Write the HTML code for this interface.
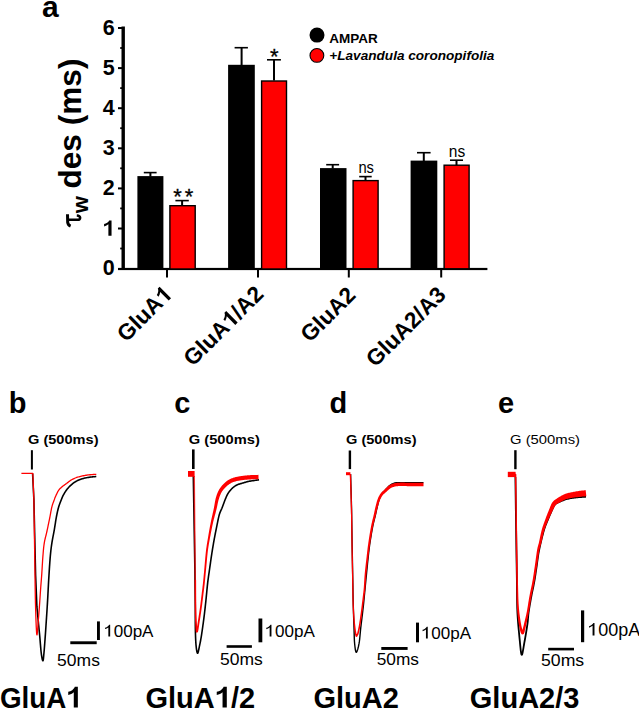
<!DOCTYPE html>
<html><head><meta charset="utf-8"><style>
html,body{margin:0;padding:0;background:#fff;}
svg{display:block;}
text{font-family:"Liberation Sans",sans-serif;}
.b{font-weight:bold;}
.one{fill-opacity:0;}
</style></head><body>
<svg width="639" height="710" viewBox="0 0 639 710">
<rect width="639" height="710" fill="#fff"/>
<text x="42" y="17" class="b" font-size="30">a</text>
<g fill="#000">
<rect x="121.5" y="26.5" width="3.4" height="243"/>
<rect x="118" y="267.9" width="369.4" height="2.2"/>
<rect x="118" y="27" width="4" height="2"/>
<rect x="118" y="67.1" width="4" height="2"/>
<rect x="118" y="107.2" width="4" height="2"/>
<rect x="118" y="147.3" width="4" height="2"/>
<rect x="118" y="187.4" width="4" height="2"/>
<rect x="118" y="227.5" width="4" height="2"/>
<rect x="120.2" y="47.1" width="2" height="1.8"/>
<rect x="120.2" y="87.2" width="2" height="1.8"/>
<rect x="120.2" y="127.3" width="2" height="1.8"/>
<rect x="120.2" y="167.4" width="2" height="1.8"/>
<rect x="120.2" y="207.5" width="2" height="1.8"/>
<rect x="120.2" y="247.6" width="2" height="1.8"/>
<rect x="166" y="269" width="2" height="8.5"/>
<rect x="257" y="269" width="2" height="8.5"/>
<rect x="347.8" y="269" width="2" height="8.5"/>
<rect x="440.2" y="269" width="2" height="8.5"/>
</g>
<g class="b" font-size="21.5" text-anchor="end">
<text x="114.6" y="34.6">6</text>
<text x="114.6" y="74.6">5</text>
<text x="114.6" y="114.7">4</text>
<text x="114.6" y="154.8">3</text>
<text x="114.6" y="194.9">2</text>
<text x="114.6" y="235.8"><tspan class="one">1</tspan></text>
<text x="114.6" y="275.1">0</text>
</g>
<g transform="translate(80.7,0) rotate(-90)">
</g><g fill="none" stroke="#000"><path d="M67.5 214.2 L67.7 222.6 Q68.1 225.2 70.6 226.2" stroke-width="3"/><path d="M68 219.8 L77.6 219.8 Q80.3 219.7 80.1 217.6 Q79.9 215.7 76.8 215.5" stroke-width="2.6"/></g><g transform="translate(80.7,0) rotate(-90)">
<text x="-213.3" y="6.8" class="b" font-size="22">w</text>
<text x="-188.5" y="0" class="b" font-size="31.6">des (ms)</text>
</g>
<g>
<rect x="137.4" y="176.1" width="26" height="92.5" fill="#000"/>
<rect x="228.1" y="64.8" width="26.7" height="204" fill="#000"/>
<rect x="320" y="168.1" width="26.5" height="100.7" fill="#000"/>
<rect x="410.6" y="160.6" width="26.7" height="108.2" fill="#000"/>
<rect x="169.9" y="205.7" width="25.3" height="63.3" fill="#f00" stroke="#000" stroke-width="1.4"/>
<rect x="261.6" y="81" width="24.9" height="188" fill="#f00" stroke="#000" stroke-width="1.4"/>
<rect x="353.1" y="180.6" width="25" height="88.2" fill="#f00" stroke="#000" stroke-width="1.4"/>
<rect x="444.1" y="165.2" width="25" height="103.6" fill="#f00" stroke="#000" stroke-width="1.4"/>
</g>
<g stroke="#000" fill="none">
<path d="M150.4 176.5 V172.6" stroke-width="2"/><path d="M143.8 172.6 H156.6" stroke-width="1.6"/>
<path d="M241.6 65 V47.7" stroke-width="2"/><path d="M234.6 47.7 H247.9" stroke-width="1.6"/>
<path d="M332.7 168.5 V164.7" stroke-width="2"/><path d="M326.2 164.7 H339.1" stroke-width="1.6"/>
<path d="M423.8 161 V152.7" stroke-width="2"/><path d="M417 152.7 H430.6" stroke-width="1.6"/>
<path d="M182.1 205.5 V200.6" stroke-width="2"/><path d="M175.4 200.6 H188.8" stroke-width="1.6"/>
<path d="M274 80.5 V59.8" stroke-width="2"/><path d="M267 59.8 H280.9" stroke-width="1.6"/>
<path d="M365.5 180.5 V176.6" stroke-width="2"/><path d="M359.2 176.6 H371.7" stroke-width="1.6"/>
<path d="M456.5 165 V160.2" stroke-width="2"/><path d="M450 160.2 H463" stroke-width="1.6"/>
</g>
<g font-size="22" text-anchor="middle" stroke="#000" stroke-width="0.3">
<text x="177.5" y="204">*</text>
<text x="189.1" y="204">*</text>
<text x="274.4" y="63.8">*</text>
</g>
<g font-size="16" text-anchor="start">
<text x="358.4" y="172.8" textLength="15.6" lengthAdjust="spacingAndGlyphs">ns</text>
<text x="448.8" y="157.3" textLength="16.4" lengthAdjust="spacingAndGlyphs">ns</text>
</g>
<circle cx="317" cy="35.1" r="7.5" fill="#000"/>
<circle cx="316.9" cy="55.4" r="6.9" fill="#f00" stroke="#000" stroke-width="1.1"/>
<text x="329.2" y="43.3" class="b" font-size="13.5">AMPAR</text>
<text x="329.3" y="59.7" class="b" font-size="13.6" font-style="italic">+Lavandula coronopifolia</text>
<g class="b" font-size="22.6" text-anchor="end">
<text transform="translate(173.3,295.9) rotate(-45)">GluA<tspan class="one">1</tspan></text>
<text transform="translate(264.8,295.4) rotate(-45)">GluA<tspan class="one">1</tspan>/A2</text>
<text transform="translate(356.9,296.3) rotate(-45)">GluA2</text>
<text transform="translate(447.2,296.1) rotate(-45)">GluA2/A3</text>
</g>
<g class="b" font-size="29">
<text x="8.7" y="413">b</text>
<text x="174.3" y="412.5">c</text>
<text x="329.4" y="413">d</text>
<text x="498.1" y="412.5">e</text>
</g>
<g font-size="13">
<text x="28" y="444.2" class="b" textLength="70.5" lengthAdjust="spacingAndGlyphs">G (500ms)</text>
<text x="188.8" y="444.2" class="b" textLength="71" lengthAdjust="spacingAndGlyphs">G (500ms)</text>
<text x="346" y="444.2" class="b" textLength="70.5" lengthAdjust="spacingAndGlyphs">G (500ms)</text>
<text x="510" y="444.2" textLength="70" lengthAdjust="spacingAndGlyphs">G (500ms)</text>
</g>
<g fill="#000">
<rect x="30.9" y="450.2" width="2" height="19.3"/>
<rect x="192" y="449.4" width="2.6" height="19.6"/>
<rect x="348.7" y="450.5" width="2.4" height="18.6"/>
<rect x="514.2" y="450.2" width="2.4" height="19"/>
</g>
<g fill="none" stroke-linejoin="round" stroke-linecap="butt">
<path d="M32.60 473.60 L33.90 500.00 L35.60 575.00 L36.90 606.70 L36.97 607.44 L37.06 608.37 L37.16 609.46 L37.27 610.69 L37.40 612.02 L37.53 613.44 L37.67 614.92 L37.82 616.42 L37.96 617.92 L38.10 619.40 L38.24 620.88 L38.39 622.42 L38.55 624.00 L38.71 625.63 L38.88 627.28 L39.04 628.96 L39.21 630.66 L39.37 632.37 L39.54 634.09 L39.70 635.80 L39.86 637.57 L40.02 639.44 L40.18 641.37 L40.34 643.33 L40.50 645.27 L40.66 647.18 L40.82 649.00 L40.98 650.70 L41.14 652.24 L41.30 653.60 L41.46 654.81 L41.63 655.95 L41.80 656.99 L41.97 657.93 L42.14 658.76 L42.30 659.47 L42.46 660.03 L42.62 660.45 L42.76 660.71 L42.90 660.80 L43.02 660.70 L43.14 660.41 L43.24 659.95 L43.33 659.34 L43.42 658.60 L43.51 657.75 L43.60 656.80 L43.70 655.78 L43.79 654.71 L43.90 653.60 L44.01 652.42 L44.13 651.13 L44.24 649.75 L44.36 648.28 L44.48 646.74 L44.60 645.14 L44.73 643.49 L44.85 641.81 L44.98 640.11 L45.10 638.40 L45.23 636.65 L45.36 634.84 L45.49 632.98 L45.62 631.08 L45.75 629.14 L45.88 627.19 L46.01 625.23 L46.14 623.27 L46.27 621.32 L46.40 619.40 L46.52 617.51 L46.65 615.64 L46.77 613.78 L46.89 611.92 L47.01 610.06 L47.12 608.18 L47.24 606.27 L47.36 604.33 L47.48 602.34 L47.60 600.30 L47.72 598.20 L47.84 596.04 L47.95 593.83 L48.07 591.58 L48.18 589.31 L48.30 587.03 L48.42 584.75 L48.54 582.47 L48.67 580.22 L48.80 578.00 L48.94 575.77 L49.08 573.49 L49.22 571.19 L49.37 568.88 L49.52 566.60 L49.68 564.36 L49.83 562.19 L49.99 560.11 L50.14 558.14 L50.30 556.30 L50.45 554.61 L50.60 553.06 L50.75 551.61 L50.90 550.26 L51.05 548.97 L51.20 547.73 L51.37 546.51 L51.53 545.30 L51.71 544.07 L51.90 542.80 L52.10 541.52 L52.32 540.27 L52.54 539.03 L52.77 537.81 L53.01 536.60 L53.25 535.39 L53.50 534.17 L53.74 532.93 L53.97 531.68 L54.20 530.40 L54.42 529.08 L54.64 527.72 L54.86 526.32 L55.08 524.92 L55.30 523.51 L55.52 522.11 L55.74 520.73 L55.96 519.40 L56.18 518.12 L56.40 516.90 L56.62 515.74 L56.85 514.61 L57.07 513.52 L57.30 512.47 L57.52 511.44 L57.75 510.45 L57.98 509.50 L58.22 508.57 L58.46 507.67 L58.70 506.80 L58.95 505.96 L59.21 505.16 L59.48 504.40 L59.75 503.66 L60.02 502.96 L60.29 502.28 L60.55 501.63 L60.81 501.00 L61.06 500.39 L61.30 499.80 L61.52 499.25 L61.71 498.75 L61.88 498.29 L62.05 497.86 L62.22 497.44 L62.39 497.03 L62.58 496.61 L62.79 496.18 L63.03 495.71 L63.30 495.20 L63.61 494.65 L63.93 494.07 L64.28 493.46 L64.65 492.84 L65.03 492.21 L65.43 491.57 L65.85 490.93 L66.29 490.31 L66.74 489.69 L67.20 489.10 L67.69 488.52 L68.20 487.93 L68.73 487.34 L69.28 486.75 L69.85 486.18 L70.42 485.61 L71.00 485.07 L71.57 484.55 L72.14 484.06 L72.70 483.60 L73.25 483.18 L73.78 482.78 L74.32 482.41 L74.85 482.07 L75.38 481.74 L75.92 481.44 L76.47 481.14 L77.03 480.85 L77.61 480.58 L78.20 480.30 L78.82 480.03 L79.45 479.77 L80.10 479.52 L80.77 479.29 L81.44 479.06 L82.11 478.85 L82.79 478.64 L83.47 478.45 L84.14 478.27 L84.80 478.10 L85.46 477.94 L86.13 477.80 L86.80 477.67 L87.48 477.55 L88.15 477.44 L88.81 477.34 L89.46 477.25 L90.10 477.16 L90.71 477.08 L91.30 477.00 L91.88 476.92 L92.48 476.85 L93.07 476.79 L93.65 476.73 L94.21 476.68 L94.73 476.64 L95.21 476.59 L95.64 476.56 L96.01 476.53 L96.30 476.50" stroke="#000" stroke-width="1.6"/>
<path d="M21.40 473.40 L32.80 473.40 L33.90 500.00 L35.00 575.00 L35.02 576.50 L35.05 578.44 L35.08 580.73 L35.11 583.29 L35.15 586.06 L35.19 588.96 L35.24 591.91 L35.29 594.83 L35.34 597.65 L35.40 600.30 L35.46 602.91 L35.54 605.63 L35.61 608.43 L35.70 611.24 L35.78 614.01 L35.87 616.71 L35.95 619.27 L36.04 621.66 L36.12 623.82 L36.20 625.70 L36.27 627.33 L36.35 628.79 L36.42 630.07 L36.49 631.18 L36.56 632.14 L36.62 632.94 L36.69 633.61 L36.76 634.13 L36.83 634.53 L36.90 634.80 L36.97 634.89 L37.04 634.76 L37.12 634.44 L37.19 633.98 L37.26 633.39 L37.33 632.73 L37.40 632.02 L37.47 631.31 L37.54 630.62 L37.60 630.00 L37.65 629.44 L37.70 628.92 L37.74 628.41 L37.78 627.89 L37.81 627.33 L37.85 626.71 L37.90 626.02 L37.95 625.21 L38.02 624.28 L38.10 623.20 L38.20 621.95 L38.31 620.56 L38.43 619.04 L38.56 617.42 L38.70 615.71 L38.84 613.95 L38.98 612.14 L39.13 610.32 L39.27 608.49 L39.40 606.70 L39.53 604.87 L39.66 602.96 L39.80 600.99 L39.93 598.98 L40.07 596.96 L40.20 594.97 L40.33 593.02 L40.46 591.14 L40.58 589.36 L40.70 587.70 L40.81 586.20 L40.92 584.85 L41.02 583.62 L41.11 582.45 L41.21 581.33 L41.30 580.21 L41.39 579.05 L41.49 577.82 L41.59 576.48 L41.70 575.00 L41.81 573.35 L41.92 571.56 L42.04 569.67 L42.16 567.70 L42.27 565.70 L42.40 563.69 L42.52 561.72 L42.64 559.80 L42.77 557.99 L42.90 556.30 L43.03 554.73 L43.15 553.23 L43.27 551.80 L43.39 550.42 L43.51 549.09 L43.64 547.79 L43.79 546.52 L43.94 545.28 L44.11 544.04 L44.30 542.80 L44.51 541.59 L44.74 540.43 L44.99 539.32 L45.24 538.23 L45.51 537.15 L45.79 536.07 L46.07 534.98 L46.35 533.87 L46.63 532.71 L46.90 531.50 L47.17 530.23 L47.46 528.90 L47.74 527.54 L48.03 526.15 L48.32 524.74 L48.61 523.34 L48.90 521.95 L49.18 520.59 L49.44 519.27 L49.70 518.00 L49.94 516.77 L50.18 515.54 L50.40 514.33 L50.62 513.14 L50.83 511.98 L51.04 510.85 L51.25 509.76 L51.46 508.72 L51.68 507.73 L51.90 506.80 L52.13 505.93 L52.37 505.10 L52.62 504.32 L52.87 503.59 L53.11 502.90 L53.35 502.25 L53.59 501.64 L53.81 501.06 L54.01 500.51 L54.20 500.00 L54.36 499.55 L54.48 499.18 L54.58 498.87 L54.67 498.61 L54.75 498.37 L54.84 498.13 L54.94 497.87 L55.06 497.58 L55.21 497.23 L55.40 496.80 L55.63 496.28 L55.90 495.69 L56.18 495.05 L56.49 494.37 L56.82 493.67 L57.15 492.97 L57.50 492.28 L57.84 491.63 L58.17 491.03 L58.50 490.50 L58.82 490.04 L59.13 489.62 L59.44 489.23 L59.76 488.88 L60.08 488.56 L60.40 488.24 L60.73 487.94 L61.07 487.64 L61.43 487.33 L61.80 487.00 L62.18 486.67 L62.58 486.35 L62.98 486.04 L63.39 485.74 L63.81 485.43 L64.25 485.12 L64.69 484.81 L65.15 484.49 L65.62 484.15 L66.10 483.80 L66.60 483.43 L67.11 483.03 L67.63 482.62 L68.16 482.20 L68.71 481.77 L69.26 481.35 L69.83 480.94 L70.41 480.54 L71.00 480.16 L71.60 479.80 L72.21 479.47 L72.81 479.15 L73.43 478.84 L74.06 478.55 L74.69 478.27 L75.35 478.00 L76.02 477.74 L76.72 477.48 L77.45 477.24 L78.20 477.00 L78.99 476.77 L79.81 476.54 L80.66 476.33 L81.54 476.12 L82.43 475.92 L83.34 475.74 L84.25 475.56 L85.17 475.40 L86.09 475.24 L87.00 475.10 L87.95 474.97 L88.98 474.86 L90.05 474.75 L91.13 474.66 L92.20 474.58 L93.23 474.51 L94.18 474.45 L95.03 474.39 L95.74 474.34 L96.30 474.30" stroke="#f00" stroke-width="1.3"/>
<path d="M193.30 476.00 L194.90 570.00 L195.30 608.00 L195.30 609.39 L195.30 611.22 L195.30 613.41 L195.30 615.85 L195.31 618.46 L195.31 621.14 L195.32 623.81 L195.34 626.37 L195.37 628.73 L195.40 630.80 L195.44 632.66 L195.49 634.44 L195.54 636.14 L195.60 637.76 L195.66 639.31 L195.73 640.78 L195.81 642.18 L195.90 643.50 L195.99 644.74 L196.10 645.90 L196.22 647.02 L196.34 648.11 L196.48 649.15 L196.62 650.12 L196.77 651.01 L196.93 651.78 L197.10 652.41 L197.26 652.89 L197.43 653.19 L197.60 653.30 L197.77 653.17 L197.95 652.81 L198.14 652.25 L198.33 651.54 L198.52 650.69 L198.72 649.76 L198.92 648.78 L199.11 647.79 L199.31 646.82 L199.50 645.90 L199.69 645.03 L199.87 644.17 L200.05 643.31 L200.23 642.42 L200.41 641.49 L200.60 640.52 L200.79 639.47 L200.98 638.35 L201.19 637.13 L201.40 635.80 L201.63 634.33 L201.87 632.73 L202.12 631.01 L202.39 629.21 L202.65 627.35 L202.91 625.46 L203.18 623.56 L203.43 621.68 L203.67 619.86 L203.90 618.10 L204.11 616.41 L204.32 614.76 L204.51 613.14 L204.70 611.53 L204.89 609.93 L205.07 608.32 L205.25 606.69 L205.43 605.03 L205.61 603.34 L205.80 601.60 L205.99 599.78 L206.18 597.89 L206.37 595.94 L206.56 593.96 L206.75 591.98 L206.94 590.00 L207.13 588.06 L207.32 586.19 L207.51 584.39 L207.70 582.70 L207.89 581.13 L208.07 579.66 L208.26 578.28 L208.44 576.96 L208.62 575.67 L208.81 574.40 L209.00 573.12 L209.19 571.80 L209.39 570.44 L209.60 569.00 L209.81 567.48 L210.03 565.91 L210.26 564.29 L210.49 562.65 L210.72 560.99 L210.96 559.34 L211.20 557.70 L211.43 556.08 L211.67 554.51 L211.90 553.00 L212.13 551.53 L212.36 550.09 L212.59 548.67 L212.82 547.27 L213.06 545.90 L213.29 544.55 L213.52 543.23 L213.75 541.93 L213.97 540.65 L214.20 539.40 L214.42 538.19 L214.64 537.04 L214.85 535.93 L215.06 534.84 L215.27 533.78 L215.48 532.71 L215.70 531.63 L215.92 530.53 L216.16 529.39 L216.40 528.20 L216.65 526.94 L216.92 525.60 L217.19 524.21 L217.47 522.79 L217.75 521.37 L218.04 519.97 L218.33 518.60 L218.62 517.31 L218.91 516.10 L219.20 515.00 L219.49 514.02 L219.79 513.14 L220.09 512.33 L220.40 511.59 L220.70 510.89 L221.00 510.23 L221.31 509.57 L221.61 508.91 L221.91 508.22 L222.20 507.50 L222.49 506.75 L222.77 505.98 L223.05 505.22 L223.32 504.45 L223.60 503.69 L223.88 502.93 L224.15 502.18 L224.43 501.44 L224.71 500.71 L225.00 500.00 L225.29 499.30 L225.57 498.62 L225.85 497.94 L226.13 497.27 L226.41 496.61 L226.70 495.96 L227.01 495.32 L227.32 494.70 L227.65 494.09 L228.00 493.50 L228.37 492.92 L228.76 492.35 L229.16 491.78 L229.57 491.24 L229.99 490.70 L230.43 490.18 L230.87 489.68 L231.31 489.20 L231.75 488.74 L232.20 488.30 L232.65 487.89 L233.09 487.50 L233.54 487.13 L234.00 486.78 L234.46 486.44 L234.92 486.13 L235.40 485.83 L235.89 485.54 L236.39 485.26 L236.90 485.00 L237.43 484.75 L237.96 484.53 L238.51 484.32 L239.07 484.13 L239.64 483.96 L240.21 483.79 L240.80 483.62 L241.39 483.45 L241.99 483.28 L242.60 483.10 L243.20 482.91 L243.79 482.73 L244.38 482.54 L244.98 482.36 L245.59 482.18 L246.22 481.99 L246.87 481.81 L247.57 481.64 L248.31 481.47 L249.10 481.30 L250.00 481.13 L251.02 480.96 L252.13 480.78 L253.29 480.61 L254.46 480.44 L255.59 480.28 L256.65 480.13 L257.60 480.00 L258.40 479.89 L259.00 479.80" stroke="#000" stroke-width="1.6"/>
<path d="M194.2 476 L195.1 570 L195.3 580" stroke="#f00" stroke-width="1.5" stroke-opacity="0.75"/>
<path d="M194.50 580.00 L194.51 581.39 L194.52 583.18 L194.53 585.31 L194.54 587.69 L194.55 590.27 L194.56 592.98 L194.58 595.74 L194.60 598.49 L194.62 601.17 L194.64 603.69 L194.67 605.99 L194.70 608.01 L194.73 609.82 L194.77 611.53 L194.80 613.15 L194.84 614.68 L194.89 616.14 L194.93 617.52 L194.98 618.83 L195.03 620.07 L195.08 621.25 L195.14 622.37 L195.19 623.43 L195.25 624.45 L195.31 625.44 L195.36 626.42 L195.42 627.37 L195.48 628.28 L195.54 629.13 L195.60 629.91 L195.67 630.60 L195.74 631.19 L195.84 631.68 L195.99 632.14 L196.67 632.73 L197.74 632.31 L197.98 631.81 L198.13 631.23 L198.29 630.51 L198.45 629.65 L198.61 628.67 L198.78 627.59 L198.95 626.44 L199.12 625.25 L199.29 624.06 L199.46 622.89 L199.63 621.78 L199.79 620.74 L199.95 619.74 L200.11 618.72 L200.27 617.69 L200.43 616.65 L200.60 615.59 L200.76 614.53 L200.92 613.46 L201.08 612.39 L201.24 611.32 L201.39 610.25 L201.54 609.18 L201.69 608.12 L201.84 607.07 L201.98 606.01 L202.12 604.95 L202.25 603.88 L202.39 602.82 L202.52 601.76 L202.65 600.70 L202.78 599.64 L202.91 598.58 L203.04 597.52 L203.16 596.46 L203.29 595.41 L203.42 594.36 L203.55 593.32 L203.68 592.28 L203.81 591.24 L203.94 590.21 L204.06 589.17 L204.19 588.13 L204.31 587.08 L204.44 586.03 L204.56 584.96 L204.68 583.89 L204.79 582.80 L204.91 581.70 L205.02 580.62 L205.13 579.54 L205.23 578.46 L205.33 577.37 L205.43 576.27 L205.54 575.15 L205.64 574.01 L205.75 572.84 L205.86 571.63 L205.97 570.38 L206.10 569.08 L206.23 567.72 L206.36 566.28 L206.49 564.78 L206.63 563.24 L206.77 561.67 L206.92 560.09 L207.06 558.50 L207.21 556.94 L207.36 555.40 L207.52 553.91 L207.68 552.47 L207.84 551.11 L208.01 549.83 L208.18 548.60 L208.35 547.42 L208.53 546.27 L208.71 545.15 L208.89 544.05 L209.08 542.97 L209.27 541.88 L209.47 540.79 L209.67 539.68 L209.87 538.54 L210.08 537.37 L210.31 536.18 L210.54 534.96 L210.77 533.73 L211.01 532.49 L211.25 531.25 L211.50 530.00 L211.75 528.76 L212.00 527.52 L212.26 526.29 L212.51 525.09 L212.77 523.90 L213.02 522.74 L213.29 521.61 L213.57 520.48 L213.85 519.37 L214.14 518.27 L214.42 517.18 L214.71 516.09 L215.00 515.02 L215.29 513.96 L215.57 512.91 L215.84 511.87 L216.11 510.83 L216.37 509.81 L216.61 508.78 L216.84 507.76 L217.06 506.75 L217.27 505.74 L217.47 504.76 L217.67 503.79 L217.87 502.85 L218.08 501.93 L218.28 501.05 L218.49 500.21 L218.71 499.41 L218.94 498.64 L219.17 497.91 L219.41 497.21 L219.65 496.54 L219.89 495.91 L220.13 495.30 L220.38 494.71 L220.64 494.15 L220.90 493.61 L221.17 493.08 L221.44 492.57 L221.72 492.07 L222.01 491.58 L222.31 491.11 L222.61 490.67 L222.92 490.24 L223.24 489.83 L223.56 489.43 L223.90 489.04 L224.24 488.66 L224.59 488.29 L224.95 487.92 L225.31 487.56 L225.68 487.20 L226.05 486.84 L226.41 486.49 L226.77 486.16 L227.12 485.83 L227.48 485.52 L227.84 485.22 L228.20 484.93 L228.56 484.65 L228.92 484.38 L229.29 484.12 L229.66 483.88 L230.04 483.64 L230.42 483.42 L230.81 483.20 L231.20 483.00 L231.58 482.80 L231.98 482.62 L232.38 482.44 L232.78 482.28 L233.20 482.11 L233.63 481.96 L234.08 481.81 L234.55 481.66 L235.04 481.52 L235.55 481.38 L236.07 481.24 L236.62 481.11 L237.19 480.99 L237.79 480.87 L238.41 480.75 L239.04 480.64 L239.68 480.54 L240.32 480.44 L240.97 480.34 L241.62 480.25 L242.26 480.16 L242.89 480.08 L243.50 480.00 L244.10 479.93 L244.70 479.87 L245.29 479.81 L245.89 479.75 L246.49 479.70 L247.09 479.65 L247.70 479.60 L248.32 479.56 L248.95 479.52 L249.58 479.48 L250.23 479.45 L250.91 479.41 L251.64 479.37 L252.42 479.34 L253.22 479.31 L254.03 479.28 L254.83 479.26 L255.61 479.23 L256.35 479.21 L257.03 479.19 L257.64 479.18 L258.16 479.16 L258.57 479.15 L258.43 474.85 L258.03 474.86 L257.52 474.88 L256.91 474.90 L256.23 474.91 L255.49 474.93 L254.70 474.96 L253.89 474.98 L253.07 475.01 L252.25 475.04 L251.45 475.08 L250.68 475.11 L249.97 475.15 L249.30 475.20 L248.65 475.25 L248.01 475.30 L247.37 475.35 L246.74 475.41 L246.11 475.46 L245.48 475.53 L244.85 475.59 L244.22 475.67 L243.59 475.75 L242.95 475.83 L242.31 475.92 L241.67 476.01 L241.01 476.11 L240.35 476.22 L239.68 476.32 L239.00 476.44 L238.32 476.56 L237.65 476.68 L236.98 476.81 L236.33 476.95 L235.68 477.10 L235.06 477.26 L234.45 477.42 L233.88 477.59 L233.33 477.77 L232.79 477.94 L232.27 478.13 L231.76 478.32 L231.25 478.52 L230.76 478.74 L230.28 478.96 L229.80 479.20 L229.32 479.44 L228.85 479.70 L228.38 479.98 L227.91 480.27 L227.46 480.58 L227.01 480.90 L226.57 481.23 L226.15 481.56 L225.73 481.91 L225.32 482.27 L224.91 482.63 L224.51 483.00 L224.12 483.38 L223.73 483.77 L223.35 484.16 L222.98 484.56 L222.61 484.96 L222.23 485.37 L221.85 485.80 L221.48 486.24 L221.10 486.70 L220.73 487.17 L220.36 487.66 L220.01 488.17 L219.65 488.70 L219.31 489.25 L218.99 489.82 L218.68 490.40 L218.38 490.97 L218.10 491.56 L217.82 492.17 L217.55 492.79 L217.29 493.42 L217.04 494.08 L216.79 494.76 L216.55 495.47 L216.32 496.20 L216.09 496.96 L215.86 497.76 L215.65 498.60 L215.44 499.48 L215.25 500.38 L215.07 501.31 L214.90 502.26 L214.73 503.22 L214.56 504.20 L214.39 505.19 L214.21 506.19 L214.03 507.19 L213.84 508.19 L213.63 509.19 L213.42 510.20 L213.20 511.23 L212.97 512.27 L212.73 513.33 L212.49 514.40 L212.24 515.48 L211.99 516.58 L211.74 517.69 L211.49 518.81 L211.25 519.95 L211.01 521.10 L210.78 522.26 L210.54 523.44 L210.31 524.64 L210.07 525.86 L209.84 527.10 L209.61 528.35 L209.39 529.60 L209.16 530.86 L208.95 532.11 L208.73 533.36 L208.52 534.60 L208.31 535.82 L208.12 537.03 L207.91 538.19 L207.72 539.33 L207.52 540.44 L207.33 541.54 L207.15 542.64 L206.97 543.73 L206.79 544.84 L206.62 545.98 L206.45 547.14 L206.28 548.34 L206.12 549.58 L205.96 550.89 L205.80 552.26 L205.65 553.71 L205.50 555.21 L205.35 556.76 L205.21 558.34 L205.07 559.92 L204.94 561.51 L204.81 563.08 L204.68 564.62 L204.55 566.12 L204.43 567.56 L204.30 568.92 L204.18 570.21 L204.07 571.46 L203.96 572.67 L203.85 573.84 L203.74 574.99 L203.64 576.10 L203.54 577.20 L203.44 578.29 L203.33 579.37 L203.23 580.44 L203.12 581.52 L203.01 582.60 L202.89 583.69 L202.77 584.76 L202.65 585.82 L202.52 586.87 L202.40 587.92 L202.28 588.95 L202.15 589.99 L202.02 591.02 L201.89 592.06 L201.76 593.10 L201.64 594.14 L201.51 595.19 L201.38 596.25 L201.25 597.30 L201.12 598.36 L200.99 599.42 L200.86 600.48 L200.73 601.54 L200.60 602.60 L200.47 603.66 L200.33 604.71 L200.19 605.77 L200.05 606.82 L199.91 607.88 L199.76 608.93 L199.61 609.99 L199.46 611.06 L199.30 612.13 L199.14 613.19 L198.98 614.26 L198.82 615.32 L198.66 616.37 L198.49 617.41 L198.33 618.44 L198.17 619.46 L198.01 620.46 L197.85 621.51 L197.68 622.63 L197.51 623.81 L197.34 625.00 L197.17 626.18 L197.00 627.31 L196.83 628.38 L196.67 629.34 L196.52 630.17 L196.38 630.82 L196.27 631.24 L196.26 631.29 L197.11 630.99 L197.59 631.36 L197.56 631.26 L197.49 630.90 L197.41 630.39 L197.34 629.74 L197.27 628.99 L197.21 628.16 L197.14 627.26 L197.08 626.32 L197.01 625.34 L196.95 624.35 L196.88 623.34 L196.82 622.28 L196.76 621.16 L196.70 619.99 L196.64 618.76 L196.58 617.46 L196.53 616.08 L196.48 614.63 L196.43 613.10 L196.38 611.49 L196.34 609.78 L196.30 607.99 L196.27 605.97 L196.24 603.67 L196.22 601.15 L196.20 598.48 L196.18 595.73 L196.16 592.97 L196.15 590.27 L196.14 587.69 L196.13 585.30 L196.12 583.18 L196.11 581.39 L196.10 580.00Z" fill="#f00" stroke="none"/>
<rect x="188" y="471" width="6.6" height="5.8" fill="#f00"/>
<path d="M350.60 474.00 L351.60 510.00 L352.10 543.80 L352.80 580.00 L352.82 581.33 L352.85 583.04 L352.88 585.05 L352.91 587.31 L352.95 589.75 L352.99 592.32 L353.04 594.95 L353.09 597.58 L353.14 600.15 L353.20 602.60 L353.26 605.03 L353.34 607.56 L353.42 610.16 L353.50 612.79 L353.59 615.43 L353.68 618.02 L353.76 620.55 L353.85 622.98 L353.93 625.27 L354.00 627.40 L354.06 629.37 L354.12 631.24 L354.16 633.01 L354.20 634.69 L354.24 636.28 L354.29 637.79 L354.35 639.24 L354.41 640.61 L354.50 641.93 L354.60 643.20 L354.72 644.46 L354.85 645.74 L354.99 647.00 L355.15 648.20 L355.31 649.31 L355.49 650.29 L355.67 651.12 L355.87 651.75 L356.08 652.16 L356.30 652.30 L356.54 652.16 L356.81 651.75 L357.09 651.12 L357.39 650.29 L357.70 649.31 L358.01 648.20 L358.31 647.00 L358.59 645.74 L358.86 644.46 L359.10 643.20 L359.31 641.91 L359.50 640.52 L359.67 639.06 L359.83 637.53 L359.98 635.93 L360.13 634.29 L360.28 632.60 L360.44 630.88 L360.61 629.15 L360.80 627.40 L361.01 625.61 L361.23 623.74 L361.46 621.82 L361.71 619.85 L361.95 617.87 L362.19 615.88 L362.44 613.90 L362.67 611.95 L362.89 610.04 L363.10 608.20 L363.30 606.40 L363.48 604.62 L363.67 602.85 L363.84 601.10 L364.01 599.38 L364.18 597.69 L364.34 596.03 L364.50 594.41 L364.65 592.83 L364.80 591.30 L364.94 589.85 L365.08 588.48 L365.20 587.19 L365.32 585.95 L365.44 584.72 L365.56 583.49 L365.69 582.22 L365.81 580.90 L365.95 579.50 L366.10 578.00 L366.26 576.38 L366.43 574.66 L366.60 572.87 L366.78 571.02 L366.97 569.14 L367.16 567.25 L367.34 565.36 L367.53 563.52 L367.72 561.72 L367.90 560.00 L368.08 558.36 L368.24 556.76 L368.41 555.21 L368.57 553.69 L368.74 552.19 L368.91 550.69 L369.09 549.18 L369.28 547.66 L369.48 546.10 L369.70 544.50 L369.94 542.84 L370.20 541.12 L370.47 539.35 L370.75 537.57 L371.04 535.78 L371.33 534.01 L371.63 532.28 L371.92 530.60 L372.22 529.00 L372.50 527.50 L372.78 526.08 L373.08 524.71 L373.37 523.39 L373.67 522.12 L373.97 520.91 L374.26 519.74 L374.54 518.61 L374.81 517.53 L375.06 516.50 L375.30 515.50 L375.51 514.57 L375.71 513.72 L375.88 512.94 L376.04 512.20 L376.20 511.50 L376.35 510.82 L376.50 510.14 L376.66 509.46 L376.82 508.75 L377.00 508.00 L377.19 507.21 L377.37 506.40 L377.56 505.57 L377.75 504.73 L377.94 503.89 L378.14 503.07 L378.35 502.25 L378.56 501.47 L378.77 500.71 L379.00 500.00 L379.23 499.32 L379.47 498.67 L379.70 498.04 L379.95 497.44 L380.20 496.85 L380.46 496.28 L380.73 495.74 L381.01 495.21 L381.30 494.70 L381.60 494.20 L381.92 493.73 L382.25 493.29 L382.59 492.88 L382.94 492.49 L383.31 492.11 L383.68 491.74 L384.05 491.37 L384.43 491.00 L384.82 490.61 L385.20 490.20 L385.59 489.77 L385.99 489.31 L386.41 488.84 L386.82 488.36 L387.24 487.88 L387.66 487.41 L388.08 486.96 L388.50 486.54 L388.90 486.15 L389.30 485.80 L389.68 485.49 L390.04 485.22 L390.39 484.97 L390.73 484.74 L391.07 484.54 L391.42 484.35 L391.79 484.18 L392.16 484.01 L392.57 483.86 L393.00 483.70 L393.38 483.55 L393.64 483.42 L393.85 483.29 L394.05 483.18 L394.31 483.07 L394.67 482.98 L395.20 482.90 L395.94 482.82 L396.96 482.76 L398.30 482.70 L400.13 482.65 L402.47 482.62 L405.19 482.60 L408.16 482.59 L411.23 482.59 L414.28 482.59 L417.17 482.59 L419.75 482.60 L421.91 482.60 L423.50 482.60" stroke="#000" stroke-width="1.4"/>
<path d="M346 473.7 L350.4 473.7" stroke="#f00" stroke-width="3"/>
<path d="M349.70 474.02 L349.76 475.77 L349.84 477.96 L349.92 480.54 L350.02 483.44 L350.13 486.58 L350.24 489.91 L350.36 493.35 L350.47 496.85 L350.58 500.33 L350.68 503.73 L350.77 506.98 L350.85 510.01 L350.91 512.90 L350.97 515.74 L351.01 518.56 L351.05 521.35 L351.09 524.13 L351.13 526.90 L351.16 529.67 L351.19 532.44 L351.23 535.24 L351.26 538.06 L351.30 540.92 L351.35 543.81 L351.40 546.79 L351.46 549.86 L351.52 553.01 L351.58 556.21 L351.64 559.41 L351.71 562.61 L351.77 565.77 L351.83 568.86 L351.89 571.86 L351.95 574.74 L352.00 577.46 L352.05 580.01 L352.09 582.39 L352.13 584.63 L352.16 586.75 L352.19 588.76 L352.21 590.68 L352.24 592.52 L352.26 594.29 L352.29 596.00 L352.32 597.68 L352.36 599.34 L352.40 600.98 L352.45 602.62 L352.50 604.25 L352.56 605.84 L352.62 607.39 L352.69 608.89 L352.75 610.36 L352.83 611.79 L352.90 613.18 L352.98 614.53 L353.06 615.85 L353.14 617.12 L353.22 618.36 L353.30 619.55 L353.39 620.71 L353.48 621.84 L353.57 622.93 L353.67 623.98 L353.77 624.99 L353.87 625.96 L353.97 626.89 L354.07 627.78 L354.17 628.63 L354.27 629.43 L354.36 630.19 L354.46 630.90 L354.55 631.58 L354.64 632.21 L354.73 632.81 L354.82 633.36 L354.91 633.88 L355.00 634.36 L355.09 634.79 L355.18 635.19 L355.27 635.54 L355.37 635.86 L355.48 636.14 L355.63 636.43 L355.92 636.76 L356.55 636.93 L357.06 636.74 L357.31 636.49 L357.47 636.25 L357.60 636.02 L357.71 635.78 L357.81 635.55 L357.90 635.33 L357.98 635.14 L358.05 634.99 L358.09 634.90 L358.12 634.86 L358.11 634.87 L358.08 634.90 L358.10 634.89 L358.20 634.80 L358.32 634.65 L358.42 634.48 L358.49 634.32 L358.55 634.14 L358.61 633.92 L358.69 633.64 L358.78 633.29 L358.88 632.88 L358.99 632.42 L359.12 631.90 L359.25 631.34 L359.39 630.74 L359.54 630.09 L359.70 629.39 L359.85 628.66 L360.01 627.89 L360.17 627.07 L360.33 626.22 L360.49 625.34 L360.65 624.40 L360.81 623.40 L360.97 622.35 L361.14 621.25 L361.31 620.11 L361.48 618.94 L361.65 617.75 L361.82 616.54 L361.99 615.32 L362.16 614.11 L362.33 612.90 L362.49 611.71 L362.66 610.50 L362.83 609.25 L363.01 607.97 L363.18 606.67 L363.36 605.36 L363.53 604.06 L363.70 602.77 L363.86 601.52 L364.02 600.30 L364.17 599.13 L364.31 598.03 L364.44 597.00 L364.56 596.08 L364.66 595.25 L364.76 594.49 L364.84 593.80 L364.92 593.14 L365.00 592.51 L365.07 591.87 L365.15 591.22 L365.22 590.53 L365.29 589.79 L365.37 588.98 L365.45 588.07 L365.53 587.09 L365.61 586.05 L365.69 584.98 L365.76 583.87 L365.84 582.72 L365.92 581.54 L366.00 580.34 L366.08 579.12 L366.17 577.87 L366.27 576.62 L366.38 575.35 L366.50 574.08 L366.63 572.78 L366.77 571.43 L366.92 570.04 L367.09 568.62 L367.25 567.18 L367.43 565.73 L367.60 564.28 L367.77 562.84 L367.95 561.43 L368.12 560.04 L368.28 558.70 L368.44 557.41 L368.59 556.19 L368.73 555.02 L368.87 553.89 L369.00 552.80 L369.13 551.74 L369.26 550.68 L369.40 549.63 L369.53 548.56 L369.68 547.47 L369.84 546.35 L370.01 545.17 L370.19 543.95 L370.39 542.64 L370.60 541.27 L370.82 539.85 L371.06 538.39 L371.30 536.91 L371.54 535.42 L371.79 533.93 L372.04 532.46 L372.30 531.03 L372.55 529.65 L372.79 528.34 L373.03 527.10 L373.27 525.93 L373.51 524.80 L373.76 523.70 L374.02 522.63 L374.27 521.60 L374.52 520.60 L374.77 519.63 L375.01 518.69 L375.24 517.79 L375.46 516.91 L375.67 516.06 L375.87 515.25 L376.05 514.49 L376.21 513.79 L376.36 513.14 L376.49 512.53 L376.62 511.97 L376.74 511.42 L376.85 510.90 L376.97 510.38 L377.09 509.86 L377.22 509.33 L377.36 508.77 L377.51 508.18 L377.68 507.56 L377.86 506.91 L378.03 506.26 L378.21 505.59 L378.40 504.93 L378.58 504.27 L378.77 503.61 L378.97 502.97 L379.16 502.35 L379.36 501.75 L379.57 501.18 L379.77 500.64 L379.98 500.12 L380.19 499.62 L380.40 499.14 L380.62 498.67 L380.84 498.22 L381.06 497.79 L381.29 497.38 L381.52 496.97 L381.75 496.58 L382.00 496.21 L382.24 495.84 L382.50 495.49 L382.75 495.16 L383.01 494.85 L383.28 494.56 L383.56 494.28 L383.85 494.00 L384.15 493.72 L384.47 493.45 L384.79 493.17 L385.13 492.88 L385.47 492.59 L385.83 492.28 L386.19 491.96 L386.55 491.63 L386.92 491.30 L387.29 490.95 L387.68 490.61 L388.06 490.26 L388.44 489.92 L388.82 489.59 L389.19 489.28 L389.55 488.98 L389.89 488.71 L390.21 488.47 L390.51 488.26 L390.79 488.07 L391.05 487.90 L391.28 487.76 L391.49 487.65 L391.69 487.55 L391.88 487.46 L392.07 487.38 L392.27 487.31 L392.50 487.23 L392.75 487.16 L393.04 487.07 L393.38 486.98 L393.73 486.88 L394.08 486.78 L394.42 486.69 L394.76 486.60 L395.10 486.52 L395.46 486.44 L395.85 486.37 L396.27 486.30 L396.72 486.24 L397.23 486.18 L397.79 486.14 L398.40 486.10 L399.08 486.07 L399.81 486.05 L400.60 486.04 L401.43 486.04 L402.31 486.05 L403.23 486.06 L404.18 486.08 L405.17 486.10 L406.17 486.11 L407.20 486.13 L408.24 486.14 L409.30 486.15 L410.42 486.15 L411.65 486.15 L412.96 486.15 L414.32 486.15 L415.71 486.15 L417.09 486.15 L418.43 486.15 L419.70 486.15 L420.87 486.15 L421.92 486.15 L422.80 486.15 L423.50 486.15 L423.50 482.65 L422.80 482.65 L421.92 482.65 L420.87 482.65 L419.70 482.65 L418.43 482.65 L417.09 482.65 L415.71 482.65 L414.32 482.65 L412.96 482.65 L411.65 482.65 L410.42 482.65 L409.30 482.65 L408.26 482.65 L407.23 482.65 L406.22 482.64 L405.21 482.63 L404.23 482.62 L403.27 482.61 L402.34 482.61 L401.43 482.61 L400.56 482.62 L399.73 482.63 L398.94 482.66 L398.20 482.70 L397.51 482.76 L396.88 482.82 L396.29 482.89 L395.75 482.97 L395.24 483.06 L394.77 483.16 L394.33 483.26 L393.92 483.37 L393.52 483.48 L393.15 483.60 L392.79 483.71 L392.42 483.82 L392.07 483.94 L391.73 484.05 L391.41 484.17 L391.10 484.30 L390.79 484.43 L390.50 484.58 L390.20 484.73 L389.91 484.90 L389.62 485.09 L389.33 485.29 L389.02 485.50 L388.69 485.74 L388.33 486.02 L387.96 486.33 L387.58 486.65 L387.20 486.99 L386.81 487.34 L386.42 487.70 L386.03 488.07 L385.65 488.44 L385.27 488.80 L384.90 489.16 L384.55 489.51 L384.21 489.84 L383.89 490.15 L383.57 490.45 L383.24 490.75 L382.91 491.05 L382.58 491.36 L382.25 491.68 L381.91 492.00 L381.58 492.34 L381.25 492.71 L380.93 493.09 L380.61 493.49 L380.30 493.91 L380.02 494.34 L379.74 494.78 L379.48 495.22 L379.22 495.68 L378.98 496.14 L378.74 496.62 L378.51 497.11 L378.28 497.61 L378.06 498.12 L377.85 498.65 L377.64 499.20 L377.43 499.76 L377.22 500.36 L377.02 500.98 L376.82 501.62 L376.63 502.28 L376.45 502.95 L376.27 503.63 L376.09 504.32 L375.92 505.00 L375.76 505.67 L375.59 506.34 L375.44 506.99 L375.29 507.62 L375.14 508.22 L375.00 508.80 L374.88 509.35 L374.76 509.89 L374.65 510.42 L374.54 510.95 L374.43 511.50 L374.31 512.07 L374.18 512.67 L374.05 513.31 L373.90 514.00 L373.73 514.75 L373.54 515.55 L373.34 516.39 L373.13 517.26 L372.91 518.16 L372.67 519.10 L372.43 520.08 L372.19 521.09 L371.94 522.14 L371.69 523.23 L371.45 524.35 L371.20 525.50 L370.97 526.70 L370.74 527.95 L370.50 529.28 L370.25 530.67 L370.01 532.11 L369.76 533.59 L369.52 535.08 L369.28 536.58 L369.05 538.07 L368.82 539.54 L368.61 540.97 L368.40 542.35 L368.21 543.65 L368.03 544.89 L367.87 546.07 L367.72 547.21 L367.58 548.31 L367.45 549.38 L367.33 550.44 L367.20 551.51 L367.08 552.58 L366.96 553.67 L366.83 554.79 L366.70 555.96 L366.56 557.19 L366.41 558.48 L366.25 559.82 L366.09 561.20 L365.92 562.62 L365.75 564.06 L365.59 565.51 L365.42 566.97 L365.26 568.41 L365.11 569.84 L364.96 571.24 L364.83 572.60 L364.70 573.92 L364.59 575.20 L364.49 576.48 L364.40 577.75 L364.32 579.00 L364.24 580.23 L364.17 581.43 L364.10 582.61 L364.04 583.76 L363.97 584.87 L363.90 585.93 L363.83 586.95 L363.75 587.93 L363.67 588.82 L363.60 589.63 L363.53 590.36 L363.45 591.04 L363.38 591.68 L363.31 592.31 L363.24 592.94 L363.16 593.59 L363.07 594.28 L362.98 595.03 L362.87 595.87 L362.76 596.80 L362.63 597.82 L362.50 598.92 L362.36 600.09 L362.21 601.31 L362.05 602.56 L361.89 603.85 L361.73 605.15 L361.56 606.46 L361.40 607.76 L361.23 609.04 L361.07 610.29 L360.91 611.49 L360.74 612.68 L360.58 613.89 L360.41 615.10 L360.24 616.31 L360.07 617.52 L359.90 618.71 L359.73 619.88 L359.56 621.01 L359.39 622.10 L359.23 623.15 L359.07 624.14 L358.91 625.06 L358.76 625.94 L358.60 626.77 L358.44 627.57 L358.29 628.33 L358.13 629.05 L357.98 629.74 L357.84 630.38 L357.70 630.97 L357.56 631.53 L357.44 632.03 L357.33 632.50 L357.22 632.91 L357.14 633.24 L357.07 633.49 L357.02 633.67 L356.99 633.77 L356.98 633.79 L357.00 633.75 L357.06 633.68 L357.09 633.64 L357.04 633.69 L356.92 633.80 L356.81 633.94 L356.71 634.10 L356.60 634.30 L356.51 634.50 L356.42 634.72 L356.33 634.93 L356.25 635.13 L356.17 635.31 L356.10 635.44 L356.06 635.50 L356.11 635.45 L356.43 635.34 L356.86 635.46 L356.97 635.57 L356.94 635.50 L356.86 635.32 L356.78 635.09 L356.70 634.79 L356.61 634.44 L356.52 634.04 L356.42 633.60 L356.33 633.10 L356.23 632.56 L356.14 631.98 L356.04 631.36 L355.94 630.70 L355.84 629.99 L355.74 629.24 L355.63 628.44 L355.52 627.60 L355.42 626.72 L355.31 625.80 L355.20 624.84 L355.09 623.84 L354.99 622.80 L354.89 621.72 L354.79 620.60 L354.70 619.45 L354.61 618.26 L354.52 617.03 L354.43 615.76 L354.34 614.45 L354.26 613.10 L354.17 611.72 L354.09 610.30 L354.02 608.83 L353.94 607.33 L353.88 605.78 L353.81 604.20 L353.75 602.58 L353.70 600.94 L353.66 599.31 L353.62 597.66 L353.59 595.98 L353.56 594.27 L353.54 592.50 L353.51 590.66 L353.49 588.74 L353.46 586.73 L353.43 584.61 L353.39 582.37 L353.35 579.99 L353.30 577.44 L353.25 574.71 L353.19 571.84 L353.13 568.84 L353.07 565.75 L353.01 562.59 L352.94 559.39 L352.88 556.18 L352.82 552.99 L352.76 549.84 L352.70 546.76 L352.65 543.79 L352.60 540.90 L352.56 538.04 L352.52 535.22 L352.49 532.43 L352.46 529.65 L352.42 526.88 L352.39 524.11 L352.35 521.33 L352.31 518.54 L352.27 515.72 L352.21 512.87 L352.15 509.99 L352.08 506.95 L352.00 503.69 L351.90 500.29 L351.80 496.81 L351.70 493.31 L351.59 489.87 L351.49 486.54 L351.39 483.39 L351.30 480.50 L351.22 477.92 L351.15 475.72 L351.10 473.98Z" fill="#f00" stroke="none"/>

<path d="M515.40 477.00 L516.40 550.00 L516.90 581.00 L516.92 582.85 L516.94 585.25 L516.96 588.09 L516.98 591.28 L517.01 594.71 L517.05 598.27 L517.10 601.88 L517.18 605.42 L517.27 608.79 L517.40 611.90 L517.56 614.87 L517.75 617.88 L517.97 620.90 L518.20 623.90 L518.46 626.84 L518.72 629.71 L518.98 632.47 L519.23 635.09 L519.47 637.55 L519.70 639.80 L519.91 641.94 L520.11 644.06 L520.30 646.10 L520.49 648.02 L520.68 649.79 L520.87 651.36 L521.07 652.68 L521.27 653.73 L521.48 654.45 L521.70 654.80 L521.93 654.73 L522.17 654.25 L522.42 653.42 L522.67 652.30 L522.93 650.95 L523.20 649.43 L523.46 647.81 L523.74 646.14 L524.02 644.48 L524.30 642.90 L524.60 641.28 L524.92 639.50 L525.25 637.60 L525.60 635.62 L525.94 633.59 L526.27 631.57 L526.59 629.59 L526.89 627.69 L527.16 625.91 L527.40 624.30 L527.59 622.86 L527.74 621.56 L527.86 620.38 L527.95 619.27 L528.03 618.21 L528.11 617.16 L528.20 616.10 L528.30 614.99 L528.43 613.80 L528.60 612.50 L528.80 611.10 L529.02 609.64 L529.26 608.12 L529.52 606.56 L529.78 604.97 L530.06 603.37 L530.34 601.76 L530.63 600.15 L530.91 598.56 L531.20 597.00 L531.49 595.46 L531.80 593.92 L532.12 592.38 L532.44 590.84 L532.76 589.31 L533.09 587.77 L533.41 586.23 L533.72 584.69 L534.02 583.15 L534.30 581.60 L534.57 580.05 L534.83 578.49 L535.07 576.93 L535.32 575.36 L535.55 573.80 L535.78 572.24 L536.01 570.67 L536.24 569.11 L536.47 567.55 L536.70 566.00 L536.92 564.47 L537.13 562.97 L537.32 561.50 L537.51 560.03 L537.71 558.55 L537.91 557.05 L538.14 555.52 L538.39 553.95 L538.67 552.31 L539.00 550.60 L539.38 548.77 L539.80 546.81 L540.26 544.75 L540.75 542.64 L541.25 540.51 L541.76 538.40 L542.27 536.36 L542.77 534.42 L543.25 532.62 L543.70 531.00 L544.12 529.56 L544.53 528.27 L544.93 527.09 L545.31 526.01 L545.69 525.01 L546.07 524.05 L546.45 523.13 L546.83 522.21 L547.21 521.27 L547.60 520.30 L548.00 519.30 L548.41 518.30 L548.82 517.31 L549.24 516.33 L549.65 515.37 L550.06 514.43 L550.46 513.52 L550.86 512.64 L551.24 511.80 L551.60 511.00 L551.94 510.24 L552.26 509.50 L552.57 508.80 L552.87 508.12 L553.16 507.48 L553.45 506.86 L553.74 506.29 L554.04 505.75 L554.36 505.26 L554.70 504.80 L555.04 504.40 L555.37 504.07 L555.69 503.80 L556.02 503.56 L556.37 503.36 L556.74 503.17 L557.13 502.98 L557.57 502.78 L558.06 502.56 L558.60 502.30 L559.20 502.01 L559.86 501.70 L560.56 501.37 L561.30 501.04 L562.07 500.70 L562.87 500.37 L563.69 500.05 L564.52 499.74 L565.36 499.46 L566.20 499.20 L567.05 498.97 L567.92 498.76 L568.80 498.56 L569.70 498.38 L570.61 498.21 L571.54 498.05 L572.49 497.90 L573.44 497.76 L574.42 497.63 L575.40 497.50 L576.45 497.38 L577.60 497.27 L578.81 497.17 L580.05 497.08 L581.27 496.99 L582.46 496.92 L583.55 496.85 L584.54 496.79 L585.36 496.74 L586.00 496.70" stroke="#000" stroke-width="1.8"/>
<path d="M508 474.5 L515.6 474.5 L516.6 550" stroke="#f00" stroke-width="1.5"/>
<path d="M515.80 550.01 L515.82 551.54 L515.84 553.48 L515.88 555.77 L515.91 558.34 L515.95 561.13 L515.99 564.06 L516.03 567.08 L516.07 570.11 L516.12 573.09 L516.16 575.94 L516.21 578.61 L516.25 581.02 L516.29 583.25 L516.32 585.42 L516.35 587.54 L516.38 589.61 L516.41 591.63 L516.44 593.59 L516.47 595.50 L516.51 597.35 L516.56 599.15 L516.61 600.91 L516.68 602.60 L516.75 604.25 L516.83 605.84 L516.92 607.36 L517.02 608.83 L517.12 610.23 L517.23 611.58 L517.35 612.89 L517.47 614.14 L517.59 615.35 L517.72 616.53 L517.85 617.66 L517.98 618.77 L518.11 619.85 L518.25 620.90 L518.39 621.92 L518.54 622.90 L518.70 623.85 L518.86 624.75 L519.02 625.62 L519.18 626.44 L519.33 627.22 L519.49 627.96 L519.65 628.65 L519.79 629.30 L519.94 629.90 L520.08 630.46 L520.22 630.99 L520.37 631.49 L520.51 631.95 L520.65 632.38 L520.80 632.78 L520.96 633.15 L521.14 633.49 L521.37 633.83 L521.73 634.17 L522.35 634.44 L523.22 634.34 L523.79 633.88 L524.06 633.44 L524.23 633.03 L524.37 632.59 L524.50 632.13 L524.63 631.63 L524.74 631.12 L524.86 630.60 L524.97 630.10 L525.07 629.62 L525.17 629.19 L525.26 628.80 L525.35 628.47 L525.42 628.17 L525.49 627.90 L525.55 627.65 L525.60 627.40 L525.66 627.15 L525.72 626.87 L525.79 626.55 L525.87 626.17 L525.96 625.72 L526.08 625.19 L526.22 624.56 L526.39 623.83 L526.58 623.01 L526.78 622.11 L527.01 621.15 L527.25 620.13 L527.50 619.06 L527.75 617.95 L528.00 616.81 L528.26 615.65 L528.51 614.47 L528.75 613.29 L528.98 612.11 L529.20 610.91 L529.42 609.68 L529.64 608.42 L529.85 607.14 L530.06 605.83 L530.27 604.51 L530.48 603.18 L530.69 601.85 L530.91 600.52 L531.12 599.20 L531.35 597.89 L531.58 596.60 L531.82 595.32 L532.07 594.05 L532.33 592.78 L532.60 591.51 L532.86 590.23 L533.13 588.96 L533.40 587.68 L533.67 586.40 L533.93 585.11 L534.19 583.81 L534.44 582.51 L534.68 581.19 L534.92 579.87 L535.15 578.54 L535.37 577.20 L535.59 575.85 L535.81 574.50 L536.02 573.14 L536.23 571.79 L536.43 570.45 L536.64 569.11 L536.84 567.78 L537.04 566.47 L537.24 565.17 L537.44 563.86 L537.64 562.51 L537.83 561.15 L538.03 559.79 L538.22 558.43 L538.41 557.10 L538.59 555.80 L538.78 554.54 L538.96 553.34 L539.14 552.21 L539.31 551.16 L539.48 550.21 L539.64 549.39 L539.79 548.69 L539.93 548.10 L540.06 547.59 L540.20 547.14 L540.33 546.70 L540.47 546.27 L540.61 545.81 L540.77 545.30 L540.94 544.73 L541.12 544.06 L541.32 543.29 L541.53 542.42 L541.75 541.48 L541.97 540.47 L542.20 539.42 L542.44 538.33 L542.69 537.22 L542.94 536.10 L543.20 534.97 L543.47 533.87 L543.74 532.79 L544.02 531.76 L544.30 530.77 L544.60 529.83 L544.91 528.89 L545.23 527.97 L545.56 527.05 L545.90 526.15 L546.24 525.25 L546.59 524.37 L546.94 523.49 L547.29 522.62 L547.65 521.76 L548.00 520.91 L548.34 520.07 L548.70 519.24 L549.05 518.41 L549.42 517.59 L549.78 516.78 L550.15 515.97 L550.51 515.18 L550.87 514.41 L551.23 513.65 L551.58 512.92 L551.93 512.20 L552.26 511.52 L552.59 510.86 L552.90 510.21 L553.20 509.59 L553.49 509.00 L553.76 508.43 L554.02 507.89 L554.27 507.39 L554.52 506.92 L554.77 506.48 L555.01 506.08 L555.25 505.71 L555.48 505.38 L555.73 505.08 L555.97 504.80 L556.20 504.57 L556.40 504.38 L556.59 504.22 L556.79 504.08 L557.00 503.95 L557.25 503.80 L557.53 503.64 L557.86 503.46 L558.24 503.25 L558.67 503.02 L559.15 502.75 L559.68 502.45 L560.23 502.14 L560.81 501.81 L561.41 501.47 L562.04 501.14 L562.68 500.80 L563.33 500.47 L563.99 500.15 L564.66 499.85 L565.31 499.57 L565.96 499.31 L566.60 499.09 L567.25 498.89 L567.92 498.71 L568.60 498.54 L569.31 498.38 L570.03 498.23 L570.77 498.09 L571.53 497.96 L572.30 497.84 L573.10 497.72 L573.91 497.60 L574.74 497.48 L575.56 497.36 L576.42 497.24 L577.35 497.13 L578.35 497.01 L579.38 496.90 L580.42 496.80 L581.46 496.70 L582.48 496.61 L583.43 496.52 L584.32 496.45 L585.12 496.38 L585.81 496.33 L586.35 496.28 L585.65 490.12 L585.13 490.20 L584.47 490.28 L583.69 490.38 L582.80 490.49 L581.84 490.61 L580.81 490.74 L579.75 490.87 L578.67 491.01 L577.60 491.16 L576.56 491.32 L575.56 491.48 L574.64 491.64 L573.78 491.80 L572.95 491.96 L572.12 492.13 L571.29 492.30 L570.46 492.47 L569.64 492.66 L568.82 492.86 L568.01 493.07 L567.20 493.30 L566.39 493.54 L565.59 493.81 L564.80 494.11 L564.00 494.44 L563.21 494.79 L562.44 495.17 L561.68 495.56 L560.95 495.97 L560.24 496.38 L559.55 496.79 L558.89 497.19 L558.27 497.59 L557.69 497.97 L557.14 498.32 L556.65 498.65 L556.20 498.95 L555.79 499.22 L555.41 499.48 L555.04 499.74 L554.67 500.00 L554.31 500.28 L553.95 500.58 L553.60 500.91 L553.26 501.27 L552.92 501.65 L552.60 502.07 L552.27 502.52 L551.95 503.02 L551.65 503.55 L551.37 504.08 L551.12 504.62 L550.87 505.16 L550.64 505.72 L550.41 506.29 L550.18 506.87 L549.95 507.47 L549.72 508.08 L549.47 508.70 L549.21 509.34 L548.93 510.02 L548.64 510.74 L548.34 511.48 L548.03 512.24 L547.71 513.03 L547.39 513.84 L547.06 514.67 L546.74 515.50 L546.41 516.35 L546.09 517.21 L545.77 518.07 L545.46 518.93 L545.14 519.79 L544.82 520.66 L544.50 521.54 L544.17 522.43 L543.84 523.33 L543.52 524.25 L543.20 525.18 L542.88 526.12 L542.57 527.08 L542.27 528.04 L541.98 529.03 L541.70 530.03 L541.42 531.06 L541.15 532.14 L540.89 533.25 L540.63 534.39 L540.39 535.53 L540.15 536.67 L539.92 537.79 L539.69 538.89 L539.48 539.94 L539.27 540.93 L539.07 541.86 L538.88 542.71 L538.71 543.44 L538.54 544.07 L538.39 544.61 L538.25 545.09 L538.12 545.55 L537.98 546.00 L537.85 546.46 L537.71 546.97 L537.57 547.53 L537.43 548.18 L537.28 548.92 L537.12 549.79 L536.95 550.77 L536.78 551.84 L536.61 552.99 L536.44 554.20 L536.26 555.47 L536.08 556.78 L535.90 558.11 L535.71 559.47 L535.53 560.83 L535.34 562.19 L535.15 563.52 L534.96 564.83 L534.77 566.13 L534.58 567.45 L534.39 568.78 L534.19 570.11 L533.99 571.46 L533.79 572.81 L533.59 574.15 L533.39 575.50 L533.18 576.84 L532.96 578.17 L532.74 579.50 L532.52 580.81 L532.28 582.10 L532.03 583.39 L531.78 584.67 L531.52 585.95 L531.25 587.23 L530.98 588.50 L530.71 589.78 L530.44 591.06 L530.18 592.34 L529.92 593.62 L529.66 594.91 L529.42 596.20 L529.18 597.51 L528.96 598.83 L528.73 600.16 L528.52 601.50 L528.30 602.84 L528.09 604.17 L527.89 605.48 L527.68 606.78 L527.47 608.06 L527.26 609.31 L527.04 610.52 L526.82 611.69 L526.59 612.85 L526.34 614.01 L526.09 615.17 L525.83 616.32 L525.56 617.45 L525.30 618.55 L525.05 619.61 L524.80 620.63 L524.57 621.59 L524.35 622.48 L524.16 623.30 L523.98 624.04 L523.83 624.68 L523.70 625.21 L523.60 625.66 L523.51 626.03 L523.43 626.34 L523.37 626.61 L523.31 626.86 L523.25 627.08 L523.19 627.31 L523.12 627.56 L523.04 627.85 L522.94 628.20 L522.83 628.61 L522.71 629.08 L522.60 629.57 L522.48 630.07 L522.37 630.57 L522.25 631.04 L522.13 631.48 L522.02 631.87 L521.91 632.16 L521.84 632.34 L521.86 632.31 L522.18 632.06 L522.80 631.99 L523.17 632.14 L523.27 632.24 L523.25 632.21 L523.17 632.07 L523.06 631.84 L522.95 631.55 L522.82 631.19 L522.69 630.79 L522.55 630.33 L522.41 629.83 L522.26 629.30 L522.11 628.73 L521.95 628.10 L521.78 627.44 L521.61 626.72 L521.44 625.97 L521.27 625.17 L521.10 624.33 L520.93 623.45 L520.76 622.53 L520.60 621.57 L520.44 620.58 L520.29 619.55 L520.14 618.49 L519.98 617.39 L519.83 616.27 L519.68 615.11 L519.53 613.92 L519.39 612.68 L519.25 611.39 L519.11 610.06 L518.99 608.67 L518.87 607.22 L518.75 605.72 L518.65 604.15 L518.56 602.52 L518.48 600.83 L518.41 599.09 L518.35 597.30 L518.29 595.45 L518.24 593.55 L518.19 591.59 L518.14 589.58 L518.10 587.51 L518.05 585.39 L518.00 583.21 L517.95 580.98 L517.90 578.58 L517.85 575.91 L517.79 573.06 L517.74 570.08 L517.69 567.05 L517.64 564.04 L517.59 561.10 L517.54 558.31 L517.50 555.74 L517.46 553.45 L517.43 551.51 L517.40 549.99Z" fill="#f00" stroke="none"/>
<rect x="507.8" y="471.8" width="7.8" height="5.3" fill="#f00"/>
</g>
<g fill="#000">
<rect x="70.3" y="641.3" width="26.4" height="2.9"/>
<rect x="97" y="621.4" width="2.9" height="18.6"/>
<rect x="226.6" y="645.2" width="25.3" height="2.6"/>
<rect x="258.5" y="618.5" width="3.8" height="23.8"/>
<rect x="381.3" y="647" width="26.3" height="2.9"/>
<rect x="416" y="622.6" width="3" height="19.7"/>
<rect x="548.2" y="647.8" width="25.8" height="2.6"/>
<rect x="581" y="610.4" width="3.2" height="31.8"/>
</g>
<g font-size="16.5" lengthAdjust="spacingAndGlyphs">
<text x="57.1" y="666.2" textLength="42.8" lengthAdjust="spacingAndGlyphs">50ms</text>
<text x="104.2" y="636.5" textLength="49.3" lengthAdjust="spacingAndGlyphs"><tspan class="one">1</tspan>00pA</text>
<text x="220" y="665.4" textLength="42.8" lengthAdjust="spacingAndGlyphs">50ms</text>
<text x="265.5" y="636.6" textLength="49.3" lengthAdjust="spacingAndGlyphs"><tspan class="one">1</tspan>00pA</text>
<text x="376.7" y="665.4" textLength="42.3" lengthAdjust="spacingAndGlyphs">50ms</text>
<text x="421.8" y="638.6" textLength="49.3" lengthAdjust="spacingAndGlyphs"><tspan class="one">1</tspan>00pA</text>
<text x="541" y="665.8" textLength="43.2" lengthAdjust="spacingAndGlyphs">50ms</text>
<text x="588.2" y="635.5" font-size="17.5" textLength="52" lengthAdjust="spacingAndGlyphs"><tspan class="one">1</tspan>00pA</text>
</g>
<g class="b" font-size="29">
<text x="0" y="707.6" textLength="81.8" lengthAdjust="spacingAndGlyphs">GluA<tspan class="one">1</tspan></text>
<text x="145.5" y="707.6">GluA<tspan class="one">1</tspan>/2</text>
<text x="313.5" y="707.6">GluA2</text>
<text x="469.8" y="707.6">GluA2/3</text>
</g>
<path transform="translate(102.631,235.800) scale(0.01051,-0.01050)" d="M848 0 L848 1466 L622 1466 C592 1372 522 1292 432 1232 C342 1172 242 1134 139 1112 L139 892 C300 932 440 1000 548 1092 L548 0 Z" fill="#000"/>
<path transform="translate(173.3,295.9) rotate(-45) translate(-12.578,0.000) scale(0.01104,-0.01104)" d="M848 0 L848 1466 L622 1466 C592 1372 522 1292 432 1232 C342 1172 242 1134 139 1112 L139 892 C300 932 440 1000 548 1092 L548 0 Z" fill="#000"/>
<path transform="translate(264.8,295.4) rotate(-45) translate(-47.750,0.000) scale(0.01104,-0.01104)" d="M848 0 L848 1466 L622 1466 C592 1372 522 1292 432 1232 C342 1172 242 1134 139 1112 L139 892 C300 932 440 1000 548 1092 L548 0 Z" fill="#000"/>
<path transform="translate(104.200,636.500) scale(0.00833,-0.00806)" d="M716 0 L716 1466 L598 1466 C552 1372 474 1292 374 1222 C276 1154 176 1112 96 1092 L96 918 C236 960 392 1040 498 1130 L498 0 Z" fill="#000"/>
<path transform="translate(265.500,636.600) scale(0.00833,-0.00806)" d="M716 0 L716 1466 L598 1466 C552 1372 474 1292 374 1222 C276 1154 176 1112 96 1092 L96 918 C236 960 392 1040 498 1130 L498 0 Z" fill="#000"/>
<path transform="translate(421.800,638.600) scale(0.00833,-0.00806)" d="M716 0 L716 1466 L598 1466 C552 1372 474 1292 374 1222 C276 1154 176 1112 96 1092 L96 918 C236 960 392 1040 498 1130 L498 0 Z" fill="#000"/>
<path transform="translate(588.200,635.500) scale(0.00878,-0.00854)" d="M716 0 L716 1466 L598 1466 C552 1372 474 1292 374 1222 C276 1154 176 1112 96 1092 L96 918 C236 960 392 1040 498 1130 L498 0 Z" fill="#000"/>
<path transform="translate(66.344,707.600) scale(0.01357,-0.01416)" d="M848 0 L848 1466 L622 1466 C592 1372 522 1292 432 1232 C342 1172 242 1134 139 1112 L139 892 C300 932 440 1000 548 1092 L548 0 Z" fill="#000"/>
<path transform="translate(214.781,707.600) scale(0.01417,-0.01416)" d="M848 0 L848 1466 L622 1466 C592 1372 522 1292 432 1232 C342 1172 242 1134 139 1112 L139 892 C300 932 440 1000 548 1092 L548 0 Z" fill="#000"/>
</svg>
</body></html>
